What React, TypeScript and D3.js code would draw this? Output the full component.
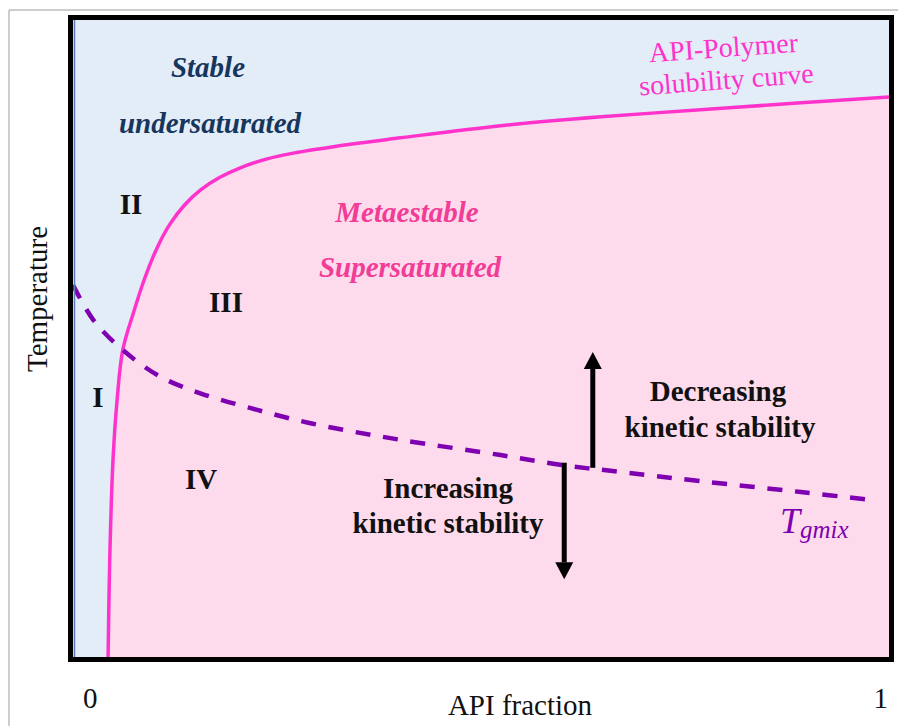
import React from "react";
import * as d3 from "d3";

// API fraction (0..1) vs relative temperature (0..1)
const solubilityX = [0.043, 0.045, 0.049, 0.054, 0.061, 0.074, 0.088, 0.104, 0.119, 0.137, 0.156, 0.18, 0.205, 0.238, 0.27, 0.34, 0.401, 0.524, 0.647, 0.769, 0.892, 1.0];
const solubilityY = [0.0, 0.152, 0.309, 0.403, 0.482, 0.54, 0.595, 0.645, 0.68, 0.71, 0.733, 0.753, 0.768, 0.782, 0.791, 0.805, 0.815, 0.834, 0.848, 0.859, 0.87, 0.879];

const tgX = [0.0, 0.025, 0.061, 0.107, 0.156, 0.217, 0.291, 0.401, 0.524, 0.601, 0.675, 0.769, 0.892, 0.982];
const tgY = [0.584, 0.529, 0.482, 0.44, 0.414, 0.391, 0.367, 0.341, 0.317, 0.301, 0.29, 0.276, 0.259, 0.246];

const tickLabels = ["0", "1"];
const tickValues = [0.021, 0.99];

// arrows: [x, yFrom, yTo]
const arrowUp = [0.637, 0.297, 0.479];
const arrowDown = [0.602, 0.305, 0.122];

const W = 898;
const H = 726;
const serif = "'Liberation Serif', 'Times New Roman', Times, serif";

export default function App() {
  const x = d3.scaleLinear().domain([0, 1]).range([73, 889]);
  const y = d3.scaleLinear().domain([0, 1]).range([657, 20]);

  const sol = solubilityX.map((v, i) => [v, solubilityY[i]] as [number, number]);
  const tg = tgX.map((v, i) => [v, tgY[i]] as [number, number]);

  const solLine = d3
    .line<[number, number]>()
    .x((d) => x(d[0]))
    .y((d) => y(d[1]))
    .curve(d3.curveCatmullRom.alpha(0.5));
  const solArea = d3
    .area<[number, number]>()
    .x((d) => x(d[0]))
    .y0(y(0) + 10)
    .y1((d) => y(d[1]))
    .curve(d3.curveCatmullRom.alpha(0.5));
  const tgLine = d3
    .line<[number, number]>()
    .x((d) => x(d[0]))
    .y((d) => y(d[1]))
    .curve(d3.curveCatmullRom.alpha(0.5));

  const arrow = (a: number[], key: string) => {
    const ax = x(a[0]);
    const y1 = y(a[1]);
    const y2 = y(a[2]);
    const dir = y2 < y1 ? -1 : 1;
    const headLen = 17;
    const headW = 9;
    const shaftEnd = y2 - dir * headLen;
    return (
      <g key={key}>
        <line x1={ax} x2={ax} y1={y1} y2={shaftEnd} stroke="#000" strokeWidth={5} />
        <path
          d={`M${ax},${y2} L${ax - headW},${shaftEnd} L${ax + headW},${shaftEnd} Z`}
          fill="#000"
        />
      </g>
    );
  };

  const pink = "#FF33CC";
  const textPink = "#F23C96";
  const navy = "#17365D";
  const purple = "#7E00B0";
  const ts = { fontFamily: serif };

  return (
    <svg
      width={W}
      height={H}
      style={{ position: "absolute", left: 0, top: 0, background: "#fff", fontFamily: serif }}
    >
      <defs>
        <clipPath id="plotclip">
          <rect x={73} y={20} width={816} height={637} />
        </clipPath>
      </defs>
      {/* outer gray frame */}
      <line x1={9} x2={9} y1={10} y2={H} stroke="#BDBDBD" strokeWidth={1.5} />
      <line x1={9} x2={W} y1={10} y2={10} stroke="#BDBDBD" strokeWidth={1.5} />

      <g clipPath="url(#plotclip)">
        <rect x={73} y={20} width={816} height={637} fill="#E3EDF8" />
        <path d={solArea(sol) || ""} fill="#FDDBEC" />
        <path d={solLine(sol) || ""} fill="none" stroke={pink} strokeWidth={3.5} />
        <path
          d={tgLine(tg) || ""}
          fill="none"
          stroke={purple}
          strokeWidth={4.5}
          strokeDasharray="15 12.7"
        />
        <line x1={74.5} x2={74.5} y1={20} y2={657} stroke="#5B7DB8" strokeWidth={1.5} />
      </g>

      <rect x={70.5} y={17.5} width={821} height={642} fill="none" stroke="#000" strokeWidth={5} />

      {arrow(arrowUp, "up")}
      {arrow(arrowDown, "down")}

      {/* region labels */}
      <g style={ts} fontWeight="bold" fontStyle="italic" fontSize={29} fill={navy} textAnchor="middle">
        <text x={208} y={77}>Stable</text>
        <text x={210} y={133}>undersaturated</text>
      </g>
      <g style={ts} fontWeight="bold" fontStyle="italic" fontSize={29} fill={textPink} textAnchor="middle">
        <text x={407} y={222}>Metaestable</text>
        <text x={410} y={277}>Supersaturated</text>
      </g>
      <g style={ts} fontWeight="bold" fontSize={29} fill="#111" textAnchor="middle">
        <text x={131} y={214}>II</text>
        <text x={226} y={312}>III</text>
        <text x={98} y={407}>I</text>
        <text x={201} y={489}>IV</text>
        <text x={718} y={401}>Decreasing</text>
        <text x={720} y={437}>kinetic stability</text>
        <text x={448} y={498}>Increasing</text>
        <text x={448} y={533}>kinetic stability</text>
      </g>

      <g style={ts} fontSize={28} fill={pink} textAnchor="middle">
        <text transform="translate(724,57) rotate(-4)">API-Polymer</text>
        <text transform="translate(727,89) rotate(-4.3)">solubility curve</text>
      </g>

      <text style={ts} x={780} y={533} fill={purple} fontStyle="italic" fontSize={36}>
        T
        <tspan fontSize={25} dy={5}>gmix</tspan>
      </text>

      {/* axes labels */}
      <text style={ts} x={520} y={715} fontSize={29} textAnchor="middle" fill="#111">API fraction</text>
      <text
        style={ts}
        transform="translate(47,299) rotate(-90)"
        fontSize={29}
        textAnchor="middle"
        fill="#111"
      >
        Temperature
      </text>
      {tickLabels.map((t, i) => (
        <text style={ts} key={t} x={x(tickValues[i])} y={708} fontSize={29} textAnchor="middle" fill="#111">
          {t}
        </text>
      ))}
    </svg>
  );
}
